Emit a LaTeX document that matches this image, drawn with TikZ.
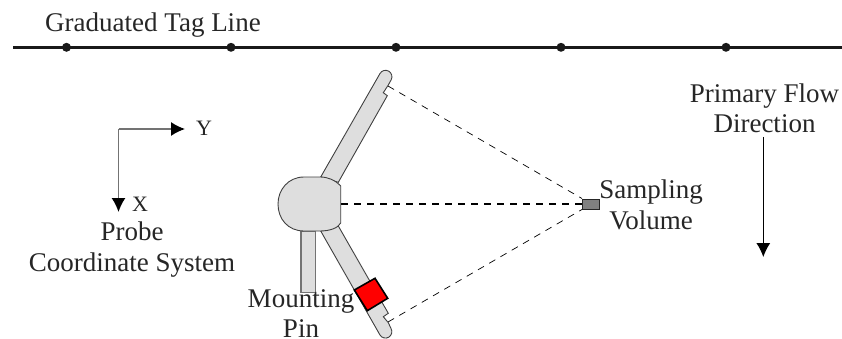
\documentclass[tikz,border=0pt]{standalone}
\usepackage{fontspec}
\setmainfont{Liberation Serif}
\usetikzlibrary{arrows.meta}
\tikzset{
  probepart/.style={draw=black!75,fill=black!13,line width=0.9pt},
  pinpart/.style={draw=black!55,fill=black!13,line width=1.1pt},
  beam/.style={dashed,dash pattern=on 7pt off 6pt,line width=0.7pt},
  axisline/.style={draw=black!55,line width=1.5pt,-{Latex[length=14pt,width=14pt,black]}},
  flowline/.style={draw=black,line width=1pt,-{Latex[length=14pt,width=14pt,black]}},
  lbl/.style={font=\fontsize{27}{30.5}\selectfont,align=center,text=black!85,inner sep=0pt},
  axislbl/.style={font=\fontsize{22}{24}\selectfont,text=black!85,inner sep=0pt},
  tagdot/.style={circle,fill=black!90,inner sep=0pt,minimum size=9pt},
}
\begin{document}
\begin{tikzpicture}[x=1pt,y=-1pt]
\useasboundingbox (0,0) rectangle (842,339);

% tag line
\coordinate (tagL) at (13,47.3);
\coordinate (tagR) at (842,47.3);
\draw[line width=3pt,black!90] (tagL) -- (tagR);
\foreach \x/\name in {66.5/a,231/b,396/c,561/d,726/e}
  \node[tagdot] (tag\name) at (\x,47.3) {};
\node[lbl,anchor=base west] (taglabel) at (45,32) {Graduated Tag Line};

% beams
\coordinate (upperTip) at (388,86);
\coordinate (lowerTip) at (388,322);
\coordinate (headFront) at (341,204);
\node[draw=black!85,fill=black!50,line width=0.9pt,minimum width=17pt,minimum height=10pt,inner sep=0pt] (volume) at (591,204) {};
\draw[beam] (upperTip) -- (volume.north west);
\draw[beam] (lowerTip) -- (volume.south west);
\draw[beam,line width=1.5pt] (headFront) -- (volume.west);

% probe
\draw[probepart] (320.7,177) -- (380,73.5) arc (210:390:6.4) -- (388.3,85) -- (383.3,92.7) -- (387.3,95.7) -- (338.3,182.3) -- cycle;
\draw[pinpart] (301,231) rectangle (315.7,292.5);
\draw[probepart] (320.7,231) -- (338.3,226) -- (388.3,313.3) -- (383.3,316.7) -- (388.3,322.7) -- (391,328.5)
  arc (-30:150:6.4) -- cycle;
\draw[probepart] (340.7,186) .. controls (335,180) and (328,177) .. (320,177) -- (304,177)
  .. controls (288,177) and (278,190) .. (278,204) .. controls (278,219) and (288,231) .. (304,231)
  -- (320,231) .. controls (330,231) and (338,228) .. (340.7,223) -- cycle;
\draw[draw=black,fill=red,line width=1.6pt] (354.3,290) -- (375,278.3) -- (387.7,298.3) -- (367.3,310.7) -- cycle;

% probe axes
\coordinate (origin) at (118.5,129);
\coordinate (yEnd) at (185,129);
\coordinate (xEnd) at (118.5,212);
\draw[axisline] (origin) -- (yEnd);
\draw[axisline] (origin) -- (xEnd);

% flow arrow
\coordinate (flowStart) at (763.3,137);
\coordinate (flowEnd) at (763.3,257);
\draw[flowline] (flowStart) -- (flowEnd);

% labels
\node[axislbl,anchor=base west] (ylabel) at (196,136) {Y};
\node[axislbl,anchor=base west] (xlabel) at (132,211) {X};
\node[lbl,anchor=base] (coordlabel) at (132,271) {Probe\\Coordinate System};
\node[lbl,anchor=base] (flowlabel) at (764.5,133) {Primary Flow\\Direction};
\node[lbl,anchor=base] (samplelabel) at (651,229) {Sampling\\Volume};
\node[lbl,anchor=base] (pinlabel) at (301,337.5) {Mounting\\Pin};
\end{tikzpicture}
\end{document}
